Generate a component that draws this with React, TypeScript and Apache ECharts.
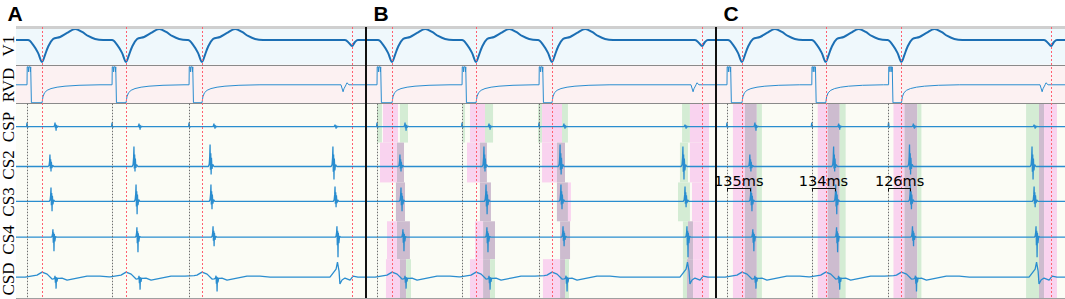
import React, { useEffect, useRef } from "react";
import * as echarts from "echarts";

// ---------- layout-free data ----------
const PANEL_MS = 2000;
const PANELS = ["A", "B", "C"];
const CHANNELS = ["V1", "RVD", "CSP", "CS2", "CS3", "CS4", "CSD"];
// display baseline of each channel (units from top of the tracing area)
const BASELINES = [13, 58, 100, 140, 175, 211, 251];

// pacing stimuli and QRS onsets (ms)
const STIM_MS = [63, 549, 989];
const QRS_MS = [149, 629, 1063, 1920];

// V1 paced QRS-T complex, relative to QRS (ms / amplitude)
const V1_T = [-80, -51, -23, 0, 17, 34, 63, 103, 143, 189, 229, 263, 303, 349];
const V1_V = [0, -5, -13, -22, -15, -7, 1, 3, 7, 11, 8, 4, 1, 0];
// V1 last (non-paced) beat
const V1_LAST_T = [-40, -17, 0, 17, 34];
const V1_LAST_V = [0, -3, -6, -2, 0];

// RVD pacing pulse relative to stimulus
const RVD_PULSE_T = [0, 1, 6, 8, 10, 14, 17, 19, 21, 24, 25];
const RVD_PULSE_V = [0, 18, 18, 13, 18, 18, 18, 13, 18, 18, -18];
// RVD recovery relative to QRS
const RVD_REC_T = [0, 5, 14, 29, 51, 86, 131, 211, 331];
const RVD_REC_V = [-18, -12, -8, -5.5, -3.8, -2.4, -1.4, -0.5, 0];
// RVD last beat, relative to last QRS
const RVD_LAST_T = [-63, -51, -46, -34, -29, -17];
const RVD_LAST_V = [0, -7, -4, 0, 2, 0];

// generic local electrogram spike (relative ms, normalised shape)
const SPIKE_T = [-10, -5, -2, 0, 2, 4, 6, 8, 11, 15, 22];
const SPIKE_SHAPE = [0, 0.1, 0.45, 1, -0.4, 0.6, -1, 0.4, -0.3, 0.1, 0];

// spike timing and amplitude per channel, per beat
const CSP_SPIKE_MS = [223, 703, 1131, 1823];
const CSP_UP = [4, 3, 3, 2];
const CSP_DOWN = [4, 3, 2, 2];
const CS2_SPIKE_MS = [194, 674, 1109, 1811];
const CS2_UP = [12, 20, 22, 20];
const CS2_DOWN = [5, 5, 8, 13];
const CS3_SPIKE_MS = [200, 686, 1114, 1823];
const CS3_UP = [14, 17, 17, 15];
const CS3_DOWN = [10, 13, 8, 6];
const CS4_SPIKE_MS = [211, 691, 1126, 1834];
const CS4_UP = [8, 10, 11, 11];
const CS4_DOWN = [14, 15, 9, 20];
const CSD_SPIKE_MS = [223, 703, 1143];
const CSD_UP = [3, 3, 3];
const CSD_DOWN = [10, 11, 13];

// CSP stimulus artefact (relative to stim)
const CSP_ART_T = [-3, 0, 3, 6];
const CSP_ART_V = [0, 4, -1, 0];
// CSD far-field wave relative to QRS
const CSD_WAVE_T = [-97, -29, 0, 29, 57, 114, 143, 200, 257, 331, 389];
const CSD_WAVE_V = [0, 2, 5, 3, -2, -1, -3, -1, 1, 1, 0];
// CSD last beat complex (relative to its activation at 1840 ms)
const CSD_LAST_MS = 1840;
const CSD_LAST_T = [-46, -11, -3, 6, 11, 23, 40, 69, 86, 114];
const CSD_LAST_V = [0, 8, 15, 6, -7, -3, -1, -3, 1, 0];

// panel B highlight boxes: [startMs, endMs, channelIndex, kind]
const B_BOXES: [number, number, number, string][] = [
  [63, 91, 2, "green"], [97, 183, 2, "pink"], [194, 240, 2, "green"],
  [80, 177, 3, "pink"], [177, 217, 3, "mix"],
  [171, 223, 4, "mix"],
  [120, 177, 5, "pink"], [177, 251, 5, "mix"],
  [114, 194, 6, "pink"], [194, 229, 6, "mix"], [229, 257, 6, "green"],
  [554, 566, 2, "green"], [594, 680, 2, "pink"], [680, 726, 2, "green"],
  [577, 651, 3, "pink"], [651, 691, 3, "mix"],
  [651, 714, 4, "mix"],
  [623, 669, 5, "pink"], [669, 737, 5, "mix"],
  [594, 669, 6, "pink"], [669, 709, 6, "mix"], [709, 737, 6, "green"],
  [983, 1006, 2, "green"], [1006, 1120, 2, "pink"], [1120, 1154, 2, "green"],
  [1006, 1091, 3, "pink"], [1091, 1137, 3, "mix"],
  [1091, 1154, 4, "mix"], [1154, 1171, 4, "pink"],
  [1109, 1166, 5, "mix"],
  [1011, 1109, 6, "pink"], [1109, 1137, 6, "mix"], [1137, 1160, 6, "green"],
  [1806, 1851, 2, "green"], [1851, 1960, 2, "pink"],
  [1794, 1840, 3, "green"], [1851, 1960, 3, "pink"],
  [1783, 1851, 4, "green"], [1863, 1960, 4, "pink"],
  [1811, 1840, 5, "green"], [1840, 1869, 5, "mix"], [1869, 1960, 5, "pink"],
  [1811, 1834, 6, "green"], [1834, 1869, 6, "mix"], [1869, 1960, 6, "pink"],
];

// panel C bands over the CS channels: [startMs, endMs, kind]
const C_BANDS: [number, number, string][] = [
  [97, 166, "pink"], [166, 234, "mix"], [234, 263, "green"],
  [583, 640, "pink"], [640, 709, "mix"], [709, 743, "green"],
  [1017, 1080, "pink"], [1080, 1154, "mix"], [1154, 1177, "green"],
  [1777, 1851, "green"], [1851, 1880, "mix"], [1880, 1954, "pink"],
];

// panel C conduction-time annotations: start at stimulus, length in ms
const INTERVALS_MS = [135, 134, 126];

// ---------- helpers ----------
const ROW_EDGES = [0, 38, 77, 116, 156, 195, 233, 272];
const KIND_COLOR: Record<string, string> = {
  pink: "#f9d3ef",
  green: "#d4ecd4",
  mix: "#cdbccf",
};

type Pt = [number, number];

function comp(at: number, ts: number[], vs: number[]): Pt[] {
  return ts.map((d, i) => [at + d, vs[i]] as Pt);
}

function spike(at: number, up: number, down: number): Pt[] {
  return SPIKE_T.map((d, i) => {
    const s = SPIKE_SHAPE[i];
    return [at + d, s >= 0 ? s * up : s * down] as Pt;
  });
}

function evalPL(c: Pt[], t: number): number {
  if (t < c[0][0] || t > c[c.length - 1][0]) return 0;
  for (let i = 0; i < c.length - 1; i++) {
    const [t0, v0] = c[i];
    const [t1, v1] = c[i + 1];
    if (t >= t0 && t <= t1) {
      if (t1 === t0) return v1;
      return v0 + ((v1 - v0) * (t - t0)) / (t1 - t0);
    }
  }
  return 0;
}

function buildTrace(components: Pt[][], baseline: number): Pt[] {
  const keys = new Set<number>([0, PANEL_MS]);
  components.forEach((c) => c.forEach((p) => keys.add(p[0])));
  const ts = Array.from(keys).sort((a, b) => a - b);
  return ts.map((t) => [t, baseline - components.reduce((s, c) => s + evalPL(c, t), 0)] as Pt);
}

function channelComponents(ch: number): Pt[][] {
  const out: Pt[][] = [];
  switch (ch) {
    case 0:
      QRS_MS.slice(0, 3).forEach((q) => out.push(comp(q, V1_T, V1_V)));
      out.push(comp(QRS_MS[3], V1_LAST_T, V1_LAST_V));
      break;
    case 1:
      STIM_MS.forEach((s, i) =>
        out.push([...comp(s, RVD_PULSE_T, RVD_PULSE_V), ...comp(QRS_MS[i], RVD_REC_T, RVD_REC_V)])
      );
      out.push(comp(QRS_MS[3], RVD_LAST_T, RVD_LAST_V));
      break;
    case 2:
      STIM_MS.forEach((s) => out.push(comp(s, CSP_ART_T, CSP_ART_V)));
      CSP_SPIKE_MS.forEach((t, i) => out.push(spike(t, CSP_UP[i], CSP_DOWN[i])));
      break;
    case 3:
      CS2_SPIKE_MS.forEach((t, i) => out.push(spike(t, CS2_UP[i], CS2_DOWN[i])));
      break;
    case 4:
      CS3_SPIKE_MS.forEach((t, i) => out.push(spike(t, CS3_UP[i], CS3_DOWN[i])));
      break;
    case 5:
      CS4_SPIKE_MS.forEach((t, i) => out.push(spike(t, CS4_UP[i], CS4_DOWN[i])));
      break;
    case 6:
      QRS_MS.slice(0, 3).forEach((q) => out.push(comp(q, CSD_WAVE_T, CSD_WAVE_V)));
      CSD_SPIKE_MS.forEach((t, i) => out.push(spike(t, CSD_UP[i], CSD_DOWN[i])));
      out.push(comp(CSD_LAST_MS, CSD_LAST_T, CSD_LAST_V));
      break;
  }
  return out;
}

function buildOption() {
  const grids = PANELS.map((_, p) => ({
    left: 16 + p * 350,
    top: 27,
    width: 350,
    height: 271,
    show: false,
  }));
  const xAxes = PANELS.map((_, p) => ({
    gridIndex: p, type: "value", min: 0, max: PANEL_MS, show: false,
  }));
  const yAxes = PANELS.map((_, p) => ({
    gridIndex: p, type: "value", min: 0, max: 272, inverse: true, show: false,
  }));

  const traces = CHANNELS.map((_, ch) => buildTrace(channelComponents(ch), BASELINES[ch]));

  const series: any[] = [];
  PANELS.forEach((_, p) => {
    // row backgrounds
    series.push({
      type: "line", xAxisIndex: p, yAxisIndex: p, data: [], z: 1, silent: true,
      markArea: {
        silent: true,
        data: [
          [{ xAxis: 0, yAxis: ROW_EDGES[0], itemStyle: { color: "#eff8fc" } }, { xAxis: PANEL_MS, yAxis: ROW_EDGES[1] }],
          [{ xAxis: 0, yAxis: ROW_EDGES[1], itemStyle: { color: "#fcf1f2" } }, { xAxis: PANEL_MS, yAxis: ROW_EDGES[2] }],
          [{ xAxis: 0, yAxis: ROW_EDGES[2], itemStyle: { color: "#fbfcf5" } }, { xAxis: PANEL_MS, yAxis: ROW_EDGES[7] }],
        ],
      },
    });
    // highlights
    let hl: any[] = [];
    if (p === 1) {
      hl = B_BOXES.map(([t0, t1, ch, k]) => [
        { xAxis: t0, yAxis: ROW_EDGES[ch], itemStyle: { color: KIND_COLOR[k] } },
        { xAxis: t1, yAxis: ROW_EDGES[ch + 1] },
      ]);
    } else if (p === 2) {
      hl = C_BANDS.map(([t0, t1, k]) => [
        { xAxis: t0, yAxis: ROW_EDGES[2], itemStyle: { color: KIND_COLOR[k] } },
        { xAxis: t1, yAxis: ROW_EDGES[7] },
      ]);
    }
    series.push({
      type: "line", xAxisIndex: p, yAxisIndex: p, data: [], z: 2, silent: true,
      markArea: { silent: true, data: hl },
    });
    // guide lines
    const lines: any[] = [];
    lines.push({ yAxis: ROW_EDGES[1], lineStyle: { color: "#8a8a8a", width: 1, type: "solid" } });
    lines.push({ yAxis: ROW_EDGES[2], lineStyle: { color: "#8a8a8a", width: 1, type: "solid" } });
    lines.push({ yAxis: 0, lineStyle: { color: "#cfcfcf", width: 3, type: "solid" } });
    lines.push({ yAxis: 272, lineStyle: { color: "#a0a0a0", width: 1, type: "solid" } });
    QRS_MS.forEach((q) =>
      lines.push({ xAxis: q, lineStyle: { color: "#ff6070", width: 1, type: [2, 2] } })
    );
    STIM_MS.forEach((s) =>
      lines.push([
        { coord: [s, ROW_EDGES[2]], lineStyle: { color: "#6f6f6f", width: 1, type: [1.5, 1.5] } },
        { coord: [s, 272] },
      ])
    );
    if (p > 0) {
      lines.push({ xAxis: 0, lineStyle: { color: "#111", width: 2, type: "solid" } });
    }
    if (p === 2) {
      const yAnn = 162;
      INTERVALS_MS.forEach((ms, i) => {
        const s = STIM_MS[i];
        lines.push([
          {
            coord: [s, yAnn],
            lineStyle: { color: "#111", width: 1, type: "solid" },
            label: {
              show: true, position: "middle", formatter: ms + "ms", distance: 0,
              color: "#000", fontSize: 14.5, fontFamily: "DejaVu Sans",
            },
          },
          { coord: [s + ms, yAnn] },
        ]);
        lines.push([
          { coord: [s, yAnn], lineStyle: { color: "#111", width: 1, type: "solid" } },
          { coord: [s, yAnn + 3] },
        ]);
        lines.push([
          { coord: [s + ms, yAnn], lineStyle: { color: "#111", width: 1, type: "solid" } },
          { coord: [s + ms, yAnn + 3] },
        ]);
      });
    }
    series.push({
      type: "line", xAxisIndex: p, yAxisIndex: p, data: [], z: 3, silent: true,
      markLine: {
        silent: true, symbol: "none", animation: false,
        label: { show: false },
        data: lines,
      },
    });
    // traces
    CHANNELS.forEach((name, ch) => {
      series.push({
        name: name + "_" + PANELS[p],
        type: "line", xAxisIndex: p, yAxisIndex: p, z: 4,
        data: traces[ch],
        showSymbol: false,
        smooth: ch === 0 ? 0.35 : false,
        lineStyle: {
          color: ch === 0 ? "#1c6fb4" : "#2a8dcf",
          width: ch === 0 ? 2 : ch === 1 ? 1 : 1.3,
        },
        silent: true,
      });
    });
  });

  const graphic: any[] = [];
  const labelY = [46, 85, 127, 165, 202, 240, 279];
  CHANNELS.forEach((name, ch) => {
    graphic.push({
      type: "text", x: 8, y: labelY[ch], rotation: Math.PI / 2,
      style: {
        text: name, fontFamily: "Liberation Serif", fontSize: 17, fill: "#000",
        align: "center", verticalAlign: "middle",
      },
    });
  });
  const titleX = [15, 381, 731];
  PANELS.forEach((t, p) => {
    graphic.push({
      type: "text", x: titleX[p], y: 13,
      style: {
        text: t, fontFamily: "Liberation Sans", fontWeight: "bold", fontSize: 21, fill: "#000",
        align: "center", verticalAlign: "middle",
      },
    });
  });

  return {
    animation: false,
    backgroundColor: "#ffffff",
    grid: grids,
    xAxis: xAxes,
    yAxis: yAxes,
    series,
    graphic,
  };
}

export default function App() {
  const ref = useRef<HTMLDivElement>(null);
  useEffect(() => {
    document.body.style.margin = "0";
    const chart = echarts.init(ref.current!, null, { renderer: "svg" });
    chart.setOption(buildOption() as any);
    return () => chart.dispose();
  }, []);
  return <div ref={ref} style={{ width: 1065, height: 299 }} />;
}
